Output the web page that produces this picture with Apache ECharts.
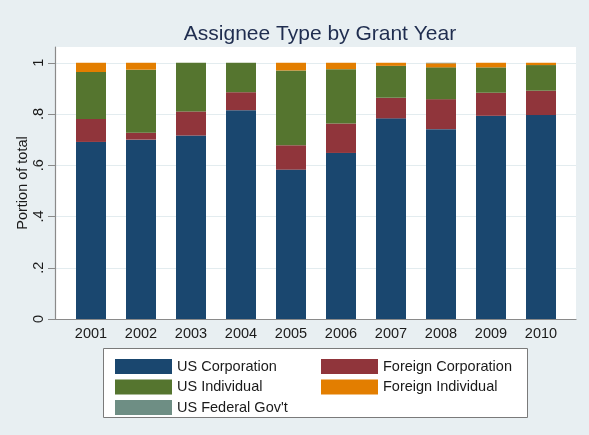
<!DOCTYPE html>
<html>
<head>
<meta charset="utf-8">
<script src="https://cdn.jsdelivr.net/npm/echarts@6/dist/echarts.min.js"></script>
<style>
  html, body { margin: 0; padding: 0; background: #e8eff2; }
  #chart { width: 589px; height: 435px; }
</style>
</head>
<body>
<div id="chart"></div>
<script>
const years = ['2001','2002','2003','2004','2005','2006','2007','2008','2009','2010'];
const usCorporation      = [0.691, 0.700, 0.716, 0.815, 0.583, 0.648, 0.783, 0.741, 0.793, 0.796];
const foreignCorporation = [0.090, 0.027, 0.094, 0.070, 0.095, 0.115, 0.080, 0.117, 0.090, 0.095];
const usIndividual       = [0.183, 0.246, 0.190, 0.115, 0.292, 0.212, 0.125, 0.124, 0.099, 0.100];
const foreignIndividual  = [0.036, 0.027, 0.000, 0.000, 0.030, 0.025, 0.012, 0.016, 0.018, 0.009];
const usFederalGov       = [0.000, 0.000, 0.000, 0.000, 0.000, 0.000, 0.000, 0.002, 0.000, 0.000];
const yTickValues = [0, 0.2, 0.4, 0.6, 0.8, 1];
const yTickLabels = ['0', '.2', '.4', '.6', '.8', '1'];

const FONT = 'Liberation Sans, Arial, sans-serif';
const yMax = 1.0615;

const chart = echarts.init(document.getElementById('chart'), null, { renderer: 'canvas' });

const seriesDefs = [
  { name: 'US Corporation', data: usCorporation, color: '#1a476f' },
  { name: 'Foreign Corporation', data: foreignCorporation, color: '#90353b' },
  { name: 'US Individual', data: usIndividual, color: '#55752f' },
  { name: 'Foreign Individual', data: foreignIndividual, color: '#e37e00' },
  { name: "US Federal Gov't", data: usFederalGov, color: '#6e8e84' }
];

const option = {
  backgroundColor: '#e8eff2',
  animation: false,
  textStyle: { fontFamily: FONT },
  title: {
    text: 'Assignee Type by Grant Year',
    left: 315,
    textAlign: 'center',
    top: 19,
    textStyle: { fontFamily: FONT, fontSize: 21, fontWeight: 'normal', color: '#1f2d4f' }
  },
  grid: [
    { left: 55, top: 47, width: 521, height: 272, show: true, backgroundColor: '#ffffff', borderWidth: 0 },
    { left: 66, top: 47, width: 500, height: 272 }
  ],
  xAxis: [
    {
      gridIndex: 0, type: 'value', min: 0, max: 1,
      axisLine: { show: true, lineStyle: { color: '#8a8a8a', width: 1.2 } },
      axisTick: { show: false }, axisLabel: { show: false }, splitLine: { show: false }
    },
    {
      gridIndex: 1, type: 'category', data: years,
      axisLine: { show: false }, axisTick: { show: false },
      axisLabel: { margin: 7, fontSize: 14.5, color: '#1a1a1a', fontFamily: FONT }
    }
  ],
  yAxis: [
    {
      gridIndex: 0, type: 'value', min: 0, max: yMax,
      name: 'Portion of total', nameLocation: 'middle', nameRotate: 90, nameGap: 25,
      nameMoveOverlap: false,
      nameTextStyle: { fontSize: 14.5, color: '#1a1a1a', fontFamily: FONT },
      axisLine: { show: true, lineStyle: { color: '#8a8a8a', width: 1.2 } },
      axisTick: { show: true, length: 7, customValues: yTickValues, lineStyle: { color: '#8a8a8a' } },
      axisLabel: {
        customValues: yTickValues, rotate: 90, margin: 9, fontSize: 14.5, color: '#1a1a1a', fontFamily: FONT,
        formatter: function (v) {
          const i = yTickValues.findIndex(t => Math.abs(t - v) < 1e-6);
          return i >= 0 ? yTickLabels[i] : '';
        }
      },
      splitLine: { show: true, lineStyle: { color: '#e3ecef', width: 1.2 } }
    },
    { gridIndex: 1, type: 'value', min: 0, max: yMax, show: false }
  ],
  legend: [
    {
      orient: 'vertical', left: 110, top: 354, itemWidth: 57, itemHeight: 15, itemGap: 5.5,
      icon: 'rect', selectedMode: false,
      data: ['US Corporation', 'US Individual', "US Federal Gov't"],
      textStyle: { fontSize: 14.5, color: '#1a1a1a', fontFamily: FONT }
    },
    {
      orient: 'vertical', left: 316, top: 354, itemWidth: 57, itemHeight: 15, itemGap: 5.5,
      icon: 'rect', selectedMode: false,
      data: ['Foreign Corporation', 'Foreign Individual'],
      textStyle: { fontSize: 14.5, color: '#1a1a1a', fontFamily: FONT }
    }
  ],
  graphic: [
    {
      type: 'rect', z: -1, left: 103, top: 348,
      shape: { width: 424, height: 69 },
      style: { fill: '#ffffff', stroke: '#7a7a7a', lineWidth: 1 }
    }
  ],
  series: seriesDefs.map(s => ({
    name: s.name,
    type: 'bar',
    stack: 'total',
    xAxisIndex: 1,
    yAxisIndex: 1,
    barWidth: 30,
    data: s.data,
    itemStyle: { color: s.color },
    emphasis: { disabled: true }
  }))
};

chart.setOption(option);
</script>
</body>
</html>
